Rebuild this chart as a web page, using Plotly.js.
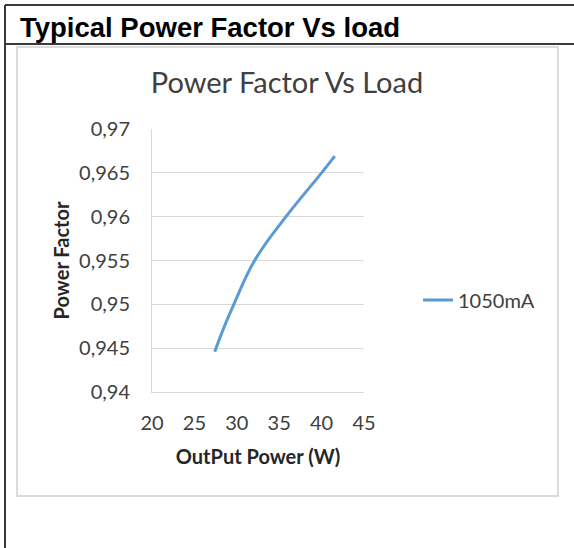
<!DOCTYPE html>
<html>
<head>
<meta charset="utf-8">
<script src="https://cdn.plot.ly/plotly-3.0.1.min.js"></script>
<style>
html,body{margin:0;padding:0;background:#fff;}
#chart{width:574px;height:548px;}
</style>
</head>
<body>
<div id="chart"></div>
<script>
// Data
const outputPower = [27.4, 28.5, 29.65, 32.1, 35.8, 40.0, 41.55];
const powerFactor1050 = [0.9446, 0.9474, 0.950, 0.955, 0.960, 0.965, 0.9669];
const seriesName = '1050mA';
const xTickVals = [20, 25, 30, 35, 40, 45];
const yTickVals = [0.94, 0.945, 0.95, 0.955, 0.96, 0.965, 0.97];

// Plot-area geometry (pixels) used to place the frame shapes
const W = 574, H = 548;
const L = 152, R = 210, T = 129, B = 156;
const PW = W - L - R, PH = H - T - B;
function px(x){ return (x - L) / PW; }
function py(y){ return (H - B - y) / PH; }

const trace = {
  x: outputPower,
  y: powerFactor1050,
  type: 'scatter',
  mode: 'lines',
  name: seriesName,
  line: {color: '#5B9BD5', width: 3, shape: 'spline', smoothing: 1.2}
};

const layout = {
  width: W, height: H,
  margin: {l: L, r: R, t: T, b: B},
  paper_bgcolor: '#ffffff',
  plot_bgcolor: '#ffffff',
  separators: ', ',
  font: {family: 'Lato, "Open Sans", sans-serif', color: '#404040'},
  title: {
    text: 'Power Factor Vs Load',
    font: {family: 'Lato, sans-serif', size: 29, color: '#404040'},
    x: 0.5, xref: 'container', xanchor: 'center',
    y: 1 - 83 / H, yref: 'container', yanchor: 'middle'
  },
  xaxis: {
    range: [20, 45],
    tickvals: xTickVals,
    showgrid: false,
    zeroline: false,
    showline: true, linecolor: '#d9d9d9', linewidth: 1,
    ticks: '',
    ticklabelstandoff: 13,
    tickfont: {size: 20, color: '#404040'},
    title: {text: 'OutPut Power (W)', standoff: 16,
            font: {size: 20, color: '#262626', family: 'Lato, sans-serif', weight: 'bold'}},
    fixedrange: true
  },
  yaxis: {
    range: [0.94, 0.97],
    tickvals: yTickVals,
    tickformat: '.3~f',
    showgrid: true, gridcolor: '#d9d9d9', gridwidth: 1,
    zeroline: false,
    showline: true, linecolor: '#d9d9d9', linewidth: 1,
    ticks: '',
    ticklabelstandoff: 17,
    tickfont: {size: 20, color: '#404040'},
    title: {text: 'Power Factor', standoff: 4,
            font: {size: 20, color: '#262626', family: 'Lato, sans-serif', weight: 'bold'}},
    fixedrange: true
  },
  showlegend: true,
  legend: {
    x: px(418), xanchor: 'left',
    y: py(300), yanchor: 'middle',
    font: {size: 20, color: '#404040'},
    bgcolor: 'rgba(0,0,0,0)',
    borderwidth: 0
  },
  shapes: [
    // outer frame: top and left borders
    {type: 'line', xref: 'paper', yref: 'paper', x0: px(5), x1: px(574), y0: py(5), y1: py(5),
     line: {color: '#3a3a3a', width: 2}},
    {type: 'line', xref: 'paper', yref: 'paper', x0: px(5), x1: px(5), y0: py(5), y1: py(548),
     line: {color: '#3a3a3a', width: 2}},
    // header separator
    {type: 'line', xref: 'paper', yref: 'paper', x0: px(5), x1: px(574), y0: py(44), y1: py(44),
     line: {color: '#3a3a3a', width: 2}},
    // chart area box
    {type: 'rect', xref: 'paper', yref: 'paper', x0: px(17), x1: px(558), y0: py(47), y1: py(496),
     line: {color: '#d0d0d0', width: 1.5}, layer: 'below'}
  ],
  annotations: [
    {text: '<b>Typical Power Factor Vs load</b>', xref: 'paper', yref: 'paper',
     x: px(18), xanchor: 'left', y: py(27), yanchor: 'middle', showarrow: false,
     font: {family: 'Arial, "Liberation Sans", sans-serif', size: 27.5, color: '#000000'}}
  ]
};

Plotly.newPlot('chart', [trace], layout, {displayModeBar: false, staticPlot: true});
</script>
</body>
</html>
